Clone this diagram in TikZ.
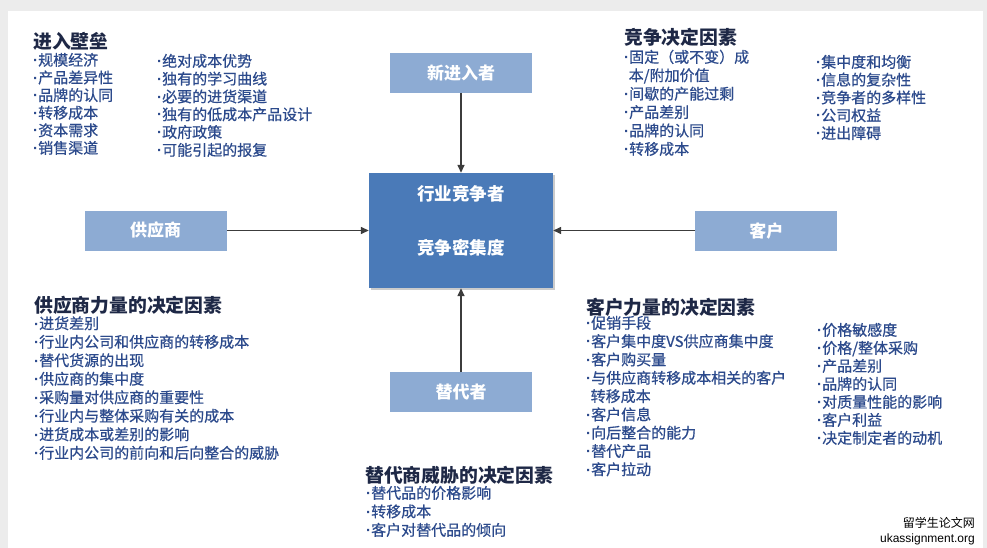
\documentclass[tikz,border=0pt]{standalone}
\usepackage{fontspec}
\usepackage{tikz}
\usetikzlibrary{arrows.meta,positioning,shadows}
\newfontfamily\cjk{Noto Sans CJK SC}
\newfontfamily\cjkitem[FakeBold=0.6]{Noto Sans CJK SC}
\newfontfamily\wmlatin{Liberation Sans}
\newcommand\bul{{\wmlatin\bfseries ·}}
\definecolor{pfedge}{RGB}{60,60,60}
\definecolor{pfforce}{RGB}{141,171,211}
\definecolor{pfcore}{RGB}{74,122,184}
\definecolor{pfhead}{RGB}{30,40,70}
\definecolor{pfitem}{RGB}{44,74,140}
\definecolor{pfframe}{RGB}{236,236,236}
\tikzset{
  force/.style={
    fill=pfforce, minimum width=142pt, minimum height=40pt, inner sep=0pt,
    text=white, font=\cjk\bfseries\fontsize{17}{20}\selectfont
  },
  core/.style={
    fill=pfcore, minimum width=184pt, minimum height=115pt, inner sep=0pt,
    drop shadow={shadow xshift=2pt, shadow yshift=-2pt, fill=black!40, opacity=0.5}
  },
  coretext/.style={inner sep=0pt, text=white, font=\cjk\bfseries\fontsize{17.5}{20}\selectfont},
  arr/.style={-{Triangle[length=8pt,width=7pt]}, draw=pfedge, line width=1.4pt},
  head/.style={anchor=base west, inner sep=0pt, text=pfhead, font=\cjk\bfseries\fontsize{18.8}{22}\selectfont},
  % anchored at the baseline of the last line
  item/.style={anchor=base west, inner sep=0pt, align=left, text=pfitem, font=\cjkitem\fontsize{15}{#1}\selectfont},
  item/.default=18,
  wm/.style={anchor=base east, inner sep=0pt, text=black}
}
\begin{document}
\begin{tikzpicture}[x=1pt, y=-1pt]
  \fill[pfframe] (0,0) rectangle (987,548);
  \fill[white] (8,11) rectangle (983,548);
  \useasboundingbox (0,0) rectangle (987,548);

  % five forces
  \node[core] (core) at (461,230.5) {};
  \node[coretext, below=12pt of core.north] (corea) {行业竞争者};
  \node[coretext, below=37pt of corea] (coreb) {竞争密集度};
  \node[force, above=80pt of core] (entrant) {新进入者};
  \node[force, below=84pt of core] (subst) {替代者};
  \node[force, left=142pt of core] (supplier) {供应商};
  \node[force, right=142pt of core] (buyer) {客户};
  \draw[arr] (entrant) -- (core);
  \draw[arr] (subst) -- (core);
  \draw[arr] (supplier) -- (core);
  \draw[arr] (buyer) -- (core);

  % barriers to entry
  \node[head] (enthd) at (33,49) {进入壁垒};
  \node[item=17.6] (ent1) at (33,153.6)
    {\bul{}规模经济\\\bul{}产品差异性\\\bul{}品牌的认同\\\bul{}转移成本\\\bul{}资本需求\\\bul{}销售渠道};
  \node[item=17.8] (ent2) at (157,155.6)
    {\bul{}绝对成本优势\\\bul{}独有的学习曲线\\\bul{}必要的进货渠道\\\bul{}独有的低成本产品设计\\\bul{}政府政策\\\bul{}可能引起的报复};

  % rivalry
  \node[head] (rivhd) at (624,45) {竞争决定因素};
  \node[item=18.4] (riv1) at (624,154.6)
    {\bul{}固定（或不变）成\\\hspace{0.3em}本/附加价值\\\bul{}间歇的产能过剩\\\bul{}产品差别\\\bul{}品牌的认同\\\bul{}转移成本};
  \node[item=17.8] (riv2) at (816,138.8)
    {\bul{}集中度和均衡\\\bul{}信息的复杂性\\\bul{}竞争者的多样性\\\bul{}公司权益\\\bul{}进出障碍};

  % supplier power
  \node[head] (suphd) at (34,312) {供应商力量的决定因素};
  \node[item=18.5] (sup1) at (34,458.5)
    {\bul{}进货差别\\\bul{}行业内公司和供应商的转移成本\\\bul{}替代货源的出现\\\bul{}供应商的集中度\\\bul{}采购量对供应商的重要性\\\bul{}行业内与整体采购有关的成本\\\bul{}进货成本或差别的影响\\\bul{}行业内公司的前向和后向整合的威胁};

  % buyer power
  \node[head] (buyhd) at (586,314) {客户力量的决定因素};
  \node[item=18.3] (buy1) at (586,475)
    {\bul{}促销手段\\\bul{}客户集中度VS供应商集中度\\\bul{}客户购买量\\\bul{}与供应商转移成本相关的客户\\\hspace{0.3em}转移成本\\\bul{}客户信息\\\bul{}向后整合的能力\\\bul{}替代产品\\\bul{}客户拉动};
  \node[item=18] (buy2) at (817,443.6)
    {\bul{}价格敏感度\\\bul{}价格/整体采购\\\bul{}产品差别\\\bul{}品牌的认同\\\bul{}对质量性能的影响\\\bul{}客户利益\\\bul{}决定制定者的动机};

  % threat of substitutes
  \node[head] (subhd) at (365,482) {替代商威胁的决定因素};
  \node[item=18.5] (sub1) at (366,535.6)
    {\bul{}替代品的价格影响\\\bul{}转移成本\\\bul{}客户对替代品的倾向};

  \node[wm, font=\cjk\fontsize{12}{14}\selectfont] (wm1) at (975,527) {留学生论文网};
  \node[wm, font=\wmlatin\fontsize{12}{14}\selectfont] (wm2) at (975,542) {ukassignment.org};
\end{tikzpicture}
\end{document}
